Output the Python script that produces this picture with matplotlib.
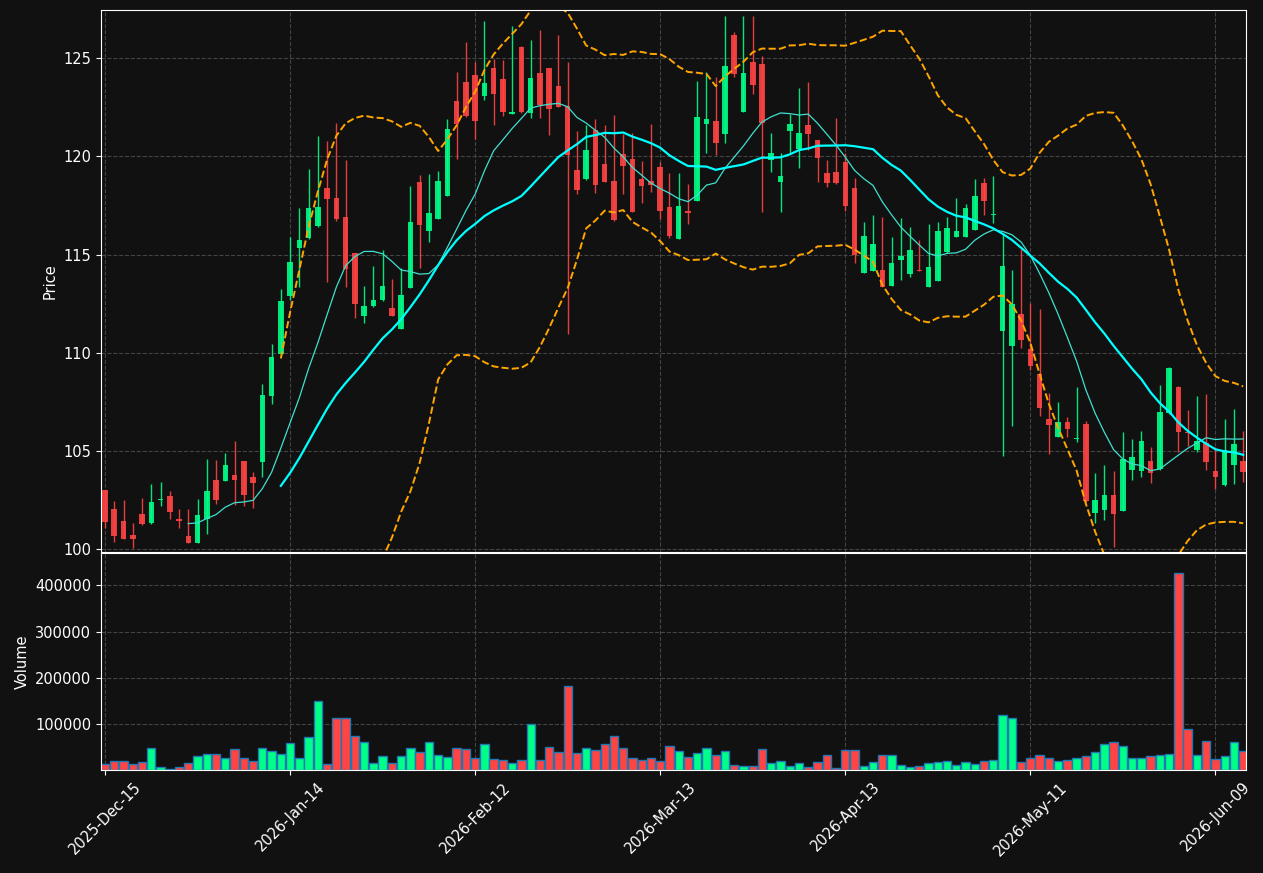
import numpy as np
import pandas as pd
import matplotlib
matplotlib.use('Agg')
import matplotlib.pyplot as plt


# daily candles (index 0 = 2025-12-15)
opens = [103.0, 102.04, 101.43, 100.71, 101.78, 101.34, 102.5, 102.7, 101.53, 100.66,
         100.32, 101.51, 103.51, 103.48, 103.77, 104.48, 103.67, 104.45, 107.8, 109.93,
         112.88, 115.34, 115.85, 116.43, 118.4, 117.9, 116.91, 115.07, 111.86, 112.39,
         112.68, 112.27, 111.22, 113.3, 118.69, 116.22, 116.82, 117.99, 122.83, 123.78,
         124.13, 123.08, 124.49, 123.93, 122.16, 125.56, 122.21, 124.24, 124.49, 123.57,
         122.55, 119.3, 118.86, 121.33, 119.6, 118.74, 120.11, 119.86, 118.86, 118.74,
         119.47, 117.43, 115.8, 117.21, 117.72, 121.66, 121.79, 121.15, 126.17, 122.27,
         124.8, 124.69, 119.82, 118.7, 121.3, 120.38, 121.6, 120.82, 119.14, 119.19,
         119.7, 118.38, 114.07, 114.17, 114.21, 113.41, 114.71, 114.0, 114.22, 113.36,
         113.66, 115.14, 115.9, 115.9, 116.26, 118.62, 117.0, 111.12, 110.35, 111.97,
         110.18, 108.91, 106.62, 105.72, 106.47, 105.58, 106.36, 101.85, 101.99, 102.75,
         101.95, 104.04, 103.99, 104.48, 104.09, 106.91, 108.25, 105.95, 105.04, 105.38,
         103.99, 103.24, 104.29, 104.5]
highs = [103.0, 102.43, 102.49, 101.31, 102.6, 103.31, 103.41, 102.95, 102.02, 102.02,
         102.55, 104.57, 104.51, 104.87, 105.48, 104.5, 103.92, 108.43, 110.42, 113.22,
         115.9, 117.35, 119.38, 121.03, 120.8, 121.72, 119.79, 115.1, 113.39, 114.43,
         115.21, 113.73, 114.29, 118.48, 119.04, 119.09, 119.25, 121.89, 124.27, 125.83,
         124.78, 126.87, 124.95, 124.9, 126.62, 125.6, 125.92, 126.43, 124.5, 126.2,
         124.8, 121.27, 121.62, 121.89, 121.62, 122.13, 121.12, 121.17, 119.76, 121.67,
         119.72, 119.13, 119.13, 118.57, 123.84, 124.29, 124.05, 127.14, 126.34, 127.14,
         127.14, 125.12, 121.17, 120.15, 122.18, 123.46, 123.76, 120.85, 119.81, 121.96,
         120.15, 118.92, 116.68, 116.99, 116.89, 115.89, 116.84, 116.4, 115.72, 116.53,
         116.68, 116.89, 117.9, 117.55, 118.87, 118.92, 118.98, 116.07, 114.19, 115.26,
         112.51, 112.2, 107.96, 107.47, 106.7, 108.25, 106.5, 103.85, 104.26, 103.96,
         105.94, 105.58, 105.99, 105.18, 108.38, 109.25, 108.28, 107.08, 107.79, 107.89,
         105.21, 106.6, 107.11, 105.99]
lows = [101.05, 100.37, 100.5, 100.03, 101.25, 101.27, 102.2, 101.51, 101.05, 100.3,
        100.3, 100.75, 102.27, 103.45, 102.24, 102.2, 102.07, 103.68, 107.38, 109.9,
        112.68, 113.36, 115.8, 116.4, 113.61, 116.72, 113.32, 111.75, 111.49, 112.34,
        112.63, 111.85, 111.2, 113.28, 114.29, 115.66, 116.8, 117.97, 119.86, 122.0,
        120.88, 122.86, 121.62, 122.03, 122.15, 122.2, 121.96, 121.96, 121.1, 122.5,
        110.95, 118.06, 118.8, 118.14, 118.7, 116.7, 118.06, 117.15, 117.63, 118.19,
        116.79, 115.82, 115.78, 116.55, 117.7, 120.15, 120.05, 120.66, 124.02, 122.25,
        123.15, 117.17, 119.18, 117.17, 120.18, 119.4, 120.32, 118.7, 118.42, 118.6,
        117.21, 114.55, 114.05, 114.15, 113.35, 113.4, 113.68, 113.86, 114.15, 113.35,
        113.65, 115.1, 115.88, 115.88, 116.25, 116.99, 116.58, 104.74, 106.26, 110.22,
        109.11, 106.79, 104.84, 105.7, 105.72, 105.43, 102.4, 101.34, 101.48, 100.12,
        101.93, 103.5, 103.68, 103.34, 104.05, 106.9, 104.95, 105.25, 104.95, 104.02,
        103.05, 103.2, 103.29, 103.4]
closes = [101.4, 100.68, 100.51, 100.51, 101.27, 102.39, 102.55, 101.9, 101.44, 100.32,
          101.73, 102.95, 102.51, 104.28, 103.53, 102.77, 103.38, 107.84, 109.78, 112.63,
          114.61, 115.73, 117.36, 117.41, 117.84, 116.82, 114.28, 112.49, 112.37, 112.68,
          113.39, 111.88, 112.93, 116.65, 116.51, 117.12, 118.74, 121.39, 121.65, 122.06,
          121.8, 123.73, 123.18, 122.26, 122.25, 122.26, 123.98, 122.61, 122.4, 122.5,
          120.08, 118.28, 120.32, 118.55, 118.7, 116.77, 119.52, 117.17, 118.5, 118.53,
          117.23, 115.94, 117.47, 117.09, 122.0, 121.89, 120.69, 124.59, 124.17, 124.24,
          123.63, 121.71, 120.15, 119.01, 121.67, 121.18, 121.15, 119.92, 118.65, 118.65,
          117.48, 114.99, 115.94, 115.53, 113.36, 114.56, 114.92, 115.22, 114.17, 114.36,
          116.19, 116.34, 116.19, 117.36, 117.97, 117.73, 117.06, 114.41, 112.47, 110.66,
          109.33, 107.19, 106.33, 106.47, 106.13, 105.64, 102.46, 102.49, 102.75, 101.8,
          104.58, 104.68, 105.5, 103.89, 106.98, 109.22, 105.97, 105.9, 105.51, 104.45,
          103.68, 105.04, 105.35, 103.94]
volumes = [13200, 19700, 19700, 13200, 17600, 47900, 6700, 2400, 6700, 15400,
           30600, 34900, 34900, 26200, 45800, 26200, 19700, 47900, 41400, 34900,
           58800, 26200, 71800, 149900, 13200, 113000, 113000, 74000, 61000, 15400,
           30600, 15400, 30600, 47900, 39300, 61000, 32800, 28400, 47900, 45800,
           26200, 56600, 24100, 21900, 15400, 21900, 100000, 21900, 50100, 39300,
           182400, 37100, 47900, 43600, 56600, 74000, 47900, 26200, 21900, 26200,
           19700, 52300, 41400, 28400, 37100, 47900, 32800, 41400, 11100, 8900,
           8900, 45800, 15400, 19700, 8900, 15400, 6700, 17600, 32800, 4600,
           43600, 43600, 8900, 17600, 32800, 32800, 11100, 6700, 8900, 15400,
           17600, 19700, 11100, 17600, 13200, 19700, 21900, 119500, 113000, 17600,
           26200, 32800, 26200, 19700, 21900, 26200, 30600, 39300, 56600, 61000,
           52300, 26200, 26200, 30600, 32800, 34900, 427500, 89200, 32800, 63100,
           24100, 30600, 61000, 41400]

tickPos = [0, 20, 40, 60, 80, 100, 120]
tickLabels = ['2025-Dec-15', '2026-Jan-14', '2026-Feb-12', '2026-Mar-13',
              '2026-Apr-13', '2026-May-11', '2026-Jun-09']

# colors
BG = '#111111'
UP = '#00ff88'
DOWN = '#ff4444'
GRID = '#444444'


def styleAxes(ax):
    ax.set_facecolor(BG)
    for s in ax.spines.values():
        s.set_color('white')
    ax.tick_params(colors='white', labelsize=10.5)
    ax.grid(True, linestyle='--', color=GRID, linewidth=0.8)
    ax.set_axisbelow(True)


def main():

    df = pd.DataFrame({'Open': opens, 'High': highs, 'Low': lows,
                       'Close': closes, 'Volume': volumes})
    x = np.arange(len(df))
    up = df['Close'] >= df['Open']
    colors = np.where(up, UP, DOWN)

    # indicators
    ma10 = df['Close'].rolling(10).mean()
    ma20 = df['Close'].rolling(20).mean()
    sd20 = df['Close'].rolling(20).std()
    bbUp = ma20 + 2 * sd20
    bbLow = ma20 - 2 * sd20

    fig = plt.figure(figsize=(12.63, 8.73), dpi=100, facecolor=BG)
    ax1 = fig.add_axes([0.080, 0.3677, 0.9065, 0.6208])
    ax2 = fig.add_axes([0.080, 0.118, 0.9065, 0.2486], sharex=ax1)
    styleAxes(ax1)
    styleAxes(ax2)

    # candles
    body = (df['Close'] - df['Open']).abs().clip(lower=0.04)
    bottom = df[['Open', 'Close']].min(axis=1)
    ax1.vlines(x, df['Low'], df['High'], colors=colors, linewidth=1, alpha=0.9)
    ax1.bar(x, body, bottom=bottom, width=0.6, color=colors, alpha=0.9)

    # moving averages + bollinger
    ax1.plot(x, ma10, color='#40e0d0', linewidth=0.9)
    ax1.plot(x, ma20, color='#00ffff', linewidth=1.6)
    ax1.plot(x, bbUp, color='orange', linestyle='--', linewidth=1.4)
    ax1.plot(x, bbLow, color='orange', linestyle='--', linewidth=1.4)

    ax1.set_ylim(99.85, 127.45)
    ax1.set_ylabel('Price', color='white', fontsize=10.5)
    plt.setp(ax1.get_xticklabels(), visible=False)

    # volume
    ax2.bar(x, df['Volume'], width=0.9, color=colors, edgecolor='#1f77b4', linewidth=1)
    ax2.set_ylim(0.3 * df['Volume'].min(), 1.1 * df['Volume'].max())
    ax2.set_ylabel('Volume', color='white', fontsize=10.5)
    ax2.set_yticks([100000, 200000, 300000, 400000])

    ax2.set_xlim(-0.43, 123.3)
    ax2.set_xticks(tickPos)
    ax2.set_xticklabels(tickLabels, rotation=45)

    fig.savefig('out.png', facecolor=BG)


if __name__ == "__main__":
    main()
